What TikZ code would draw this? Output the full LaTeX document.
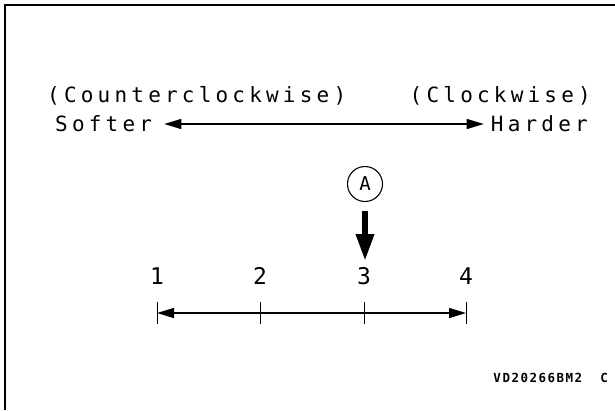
\documentclass[tikz,border=0pt]{standalone}
\usepackage{fontspec}
\usetikzlibrary{positioning,arrows.meta,calc}
\newfontfamily\gothic[LetterSpace=20]{DejaVu Sans Mono}
\newfontfamily\gothicplain{DejaVu Sans Mono}
\newfontfamily\gothiccode[LetterSpace=12]{DejaVu Sans Mono Bold}
\begin{document}
\begin{tikzpicture}[
  x=1pt, y=-1pt,
  lbl/.style={inner sep=0pt,font=\gothic\fontsize{21}{21}\selectfont},
  num/.style={inner sep=0pt,font=\gothicplain\fontsize{23}{23}\selectfont},
  code/.style={inner sep=0pt,font=\gothiccode\fontsize{12.5}{12.5}\selectfont},
  flow/.style={line width=1.5pt,{Triangle[length=17pt,width=10pt]}-{Triangle[length=17pt,width=10pt]}},
  tick/.style={line width=0.9pt},
]
\useasboundingbox (0,0) rectangle (615,410);
% frame
\draw[line width=2pt] (4.5,410) |- (615,4.5);
% direction labels
\node[lbl,anchor=west] (ccw) at (47,96) {(Counterclockwise)};
\node[lbl,anchor=east] (cw)  at (591,96) {(Clockwise)};
\node[lbl,anchor=west] (soft) at (55,124) {Softer};
\node[lbl,anchor=east] (hard) at (588,124) {Harder};
\draw[flow] ($(soft.east)+(12,0)$) -- ($(hard.west)+(-7,0)$);
% marker A
\node[draw,circle,line width=1.1pt,minimum size=35pt,inner sep=0pt,
  font=\gothicplain\fontsize{19}{19}\selectfont] (mk) at (365,184) {A};
% scale
\foreach \n/\x in {1/157,2/260,3/364,4/466}{
  \node[num] (n\n) at (\x,276) {\n};
  \coordinate (t\n) at (\x,313);
  \draw[tick] ($(t\n)+(0,-11)$) -- ($(t\n)+(0,11)$);
}
\draw[flow] (t1) -- (t4);
\draw[line width=6pt,-{Triangle[length=27pt,width=17pt]}]
  ($(mk.south)+(0,9)$) -- ($(mk.south |- n3.north)+(0,-6)$);
\node[code,anchor=east] (id) at (608,378) {VD20266BM2\ \ C};
\end{tikzpicture}
\end{document}
